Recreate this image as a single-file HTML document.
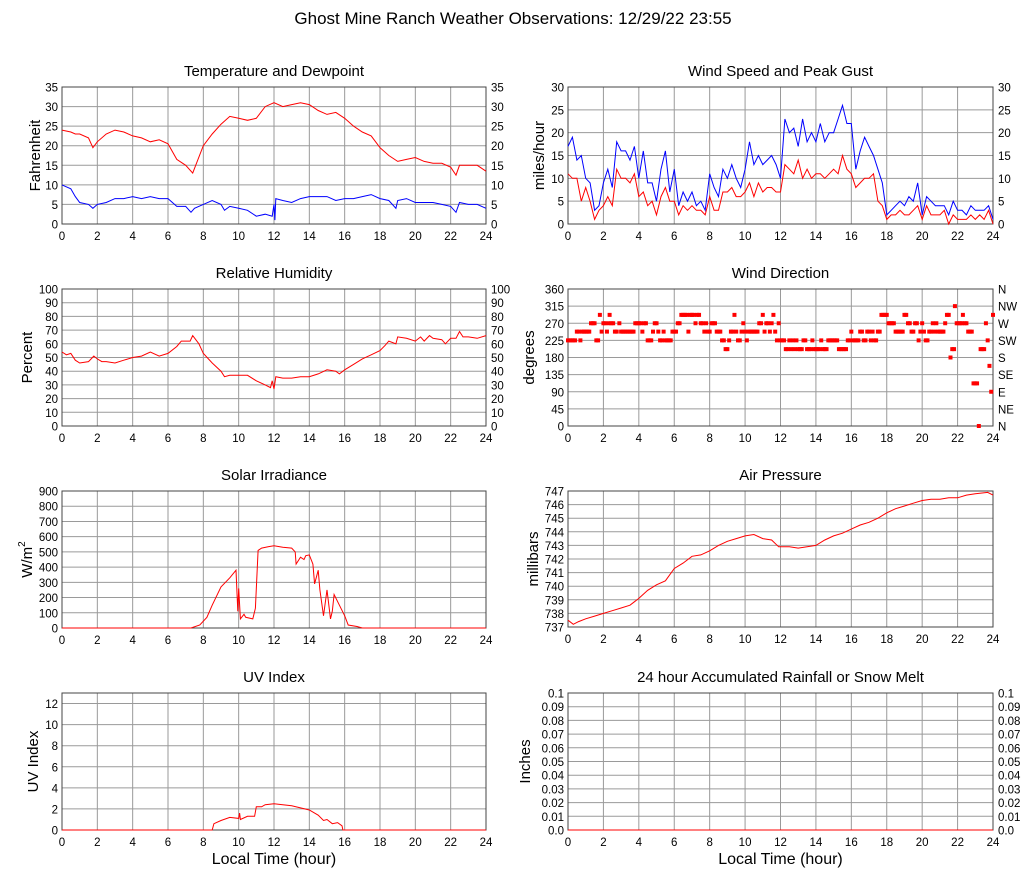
<!DOCTYPE html>
<html><head><meta charset="utf-8"><style>
body{margin:0;background:#fff}
svg{display:block;font-family:"Liberation Sans",sans-serif}
</style></head><body>
<svg id="chart" width="1027" height="878" viewBox="0 0 1027 878" xmlns="http://www.w3.org/2000/svg">
<rect width="1027" height="878" fill="#fff"/>
<text x="513" y="24" font-size="17" text-anchor="middle" fill="#000">Ghost Mine Ranch Weather Observations: 12/29/22 23:55</text>
</svg>
<script>
// ---- data ----
const tempHours=[0,0.5,0.75,1,1.5,1.75,2,2.5,3,3.5,4,4.5,5,5.5,6,6.5,7,7.4,8,8.5,9,9.5,10,10.5,11,11.5,12,12.5,13,13.5,14,14.5,15,15.5,16,16.5,17,17.5,18,18.5,19,19.5,20,20.5,21,21.5,22,22.3,22.5,23,23.5,24];
const tempValues=[24,23.5,23,23,22,19.5,21,23,24,23.5,22.5,22,21,21.5,20.5,16.5,15,13,20,23,25.5,27.5,27,26.5,27,30,31,30,30.5,31,30.5,29,28,28.5,27,25,23.5,22.5,19.5,17.5,16,16.5,17,16,15.5,15.5,14.5,12.5,15,15,15,13.5];
const dewHours=[0,0.5,0.75,1,1.5,1.75,2,2.5,3,3.5,4,4.5,5,5.5,6,6.5,7,7.3,7.5,8,8.5,9,9.2,9.5,10,10.5,11,11.5,11.9,12,12.05,12.1,12.5,13,13.5,14,14.5,15,15.5,16,16.5,17,17.5,18,18.5,18.9,19,19.5,20,20.5,21,21.5,22,22.3,22.5,23,23.5,24];
const dewValues=[10,9,7,5.5,5,4,5,5.5,6.5,6.5,7,6.5,7,6.5,6.5,4.5,4.5,3,4,5,6,5,3.5,4.5,4,3.5,2,2.5,2,5,1,6.5,6,5.5,6.5,7,7,7,6,6.5,6.5,7,7.5,6.5,6,4,6,6.5,5.5,5.5,5.5,5,4.5,3,5.5,5,5,4];
const windHours=[0,0.25,0.5,0.75,1,1.25,1.5,1.75,2,2.25,2.5,2.75,3,3.25,3.5,3.75,4,4.25,4.5,4.75,5,5.25,5.5,5.75,6,6.25,6.5,6.75,7,7.25,7.5,7.75,8,8.25,8.5,8.75,9,9.25,9.5,9.75,10,10.25,10.5,10.75,11,11.25,11.5,11.75,12,12.25,12.5,12.75,13,13.25,13.5,13.75,14,14.25,14.5,14.75,15,15.25,15.5,15.75,16,16.25,16.5,16.75,17,17.25,17.5,17.75,18,18.25,18.5,18.75,19,19.25,19.5,19.75,20,20.25,20.5,20.75,21,21.25,21.5,21.75,22,22.25,22.5,22.75,23,23.25,23.5,23.75,24];
const gustValues=[17,19,14,15,10,9,3,4,9,12,8,18,16,16,14,17,10,16,9,9,5,12,16,7,12,4,7,5,7,4,5,3,11,8,6,12,10,13,10,8,12,18,13,15,13,14,15,13,10,23,20,21,17,23,18,20,18,22,18,20,20,23,26,22,22,12,16,19,17,15,12,9,2,3,4,5,4,6,5,9,2,6,5,4,4,4,2,5,3,3,2,4,3,3,3,4,1];
const speedValues=[11,10,10,5,8,5,1,3,4,6,4,12,10,10,9,11,6,7,4,5,2,6,8,5,5,2,4,3,4,3,3,2,6,3,3,7,7,8,6,6,7,9,6,9,7,8,8,7,7,13,12,11,14,10,12,10,11,11,10,11,12,11,15,12,11,8,9,10,10,11,5,4,1,2,2,3,2,2,3,4,1,4,2,2,2,3,0,2,1,1,1,2,1,2,1,3,0];
const rhHours=[0,0.25,0.5,0.75,1,1.5,1.8,2,2.25,2.5,3,3.5,4,4.5,5,5.5,6,6.5,6.75,7,7.25,7.4,7.75,8,8.5,9,9.2,9.5,10,10.5,11,11.5,11.8,11.9,12,12.1,12.5,13,13.5,14,14.5,15,15.5,15.7,16,16.5,17,17.5,18,18.3,18.5,18.9,19,19.5,20,20.3,20.5,20.8,21,21.5,21.7,22,22.3,22.5,22.7,23,23.5,24];
const rhValues=[54,52,53,48,46,47,51,49,47,47,46,48,50,51,54,51,53,58,62,62,62,66,60,53,46,40,36,37,37,37,33,30,28,33,27,36,35,35,36,36,38,41,40,38,41,45,49,52,55,59,62,60,65,64,62,65,62,66,64,63,60,64,64,69,65,65,64,66];
const dirHours=[0,0.1,0.2,0.3,0.4,0.5,0.6,0.7,0.8,0.9,1.0,1.1,1.2,1.3,1.4,1.5,1.6,1.7,1.8,1.9,2.0,2.1,2.2,2.3,2.35,2.45,2.55,2.65,2.75,2.9,3.0,3.1,3.2,3.3,3.4,3.5,3.6,3.7,3.8,3.9,4.0,4.1,4.2,4.3,4.4,4.5,4.6,4.7,4.8,4.9,5.0,5.1,5.2,5.3,5.4,5.5,5.6,5.7,5.8,5.9,6.0,6.1,6.2,6.3,6.4,6.5,6.6,6.7,6.8,6.9,7.0,7.1,7.2,7.3,7.4,7.5,7.6,7.7,7.8,7.9,8.0,8.1,8.2,8.3,8.4,8.5,8.6,8.7,8.8,8.9,9.0,9.1,9.2,9.3,9.4,9.5,9.6,9.7,9.8,9.9,10.0,10.1,10.2,10.3,10.4,10.5,10.6,10.7,10.8,10.9,11.0,11.1,11.2,11.3,11.4,11.5,11.6,11.7,11.8,11.9,12.0,12.1,12.2,12.3,12.4,12.5,12.6,12.7,12.8,12.9,13.0,13.1,13.2,13.3,13.4,13.5,13.6,13.7,13.8,13.9,14.0,14.1,14.2,14.3,14.4,14.5,14.6,14.7,14.8,14.9,15.0,15.1,15.2,15.3,15.4,15.5,15.6,15.7,15.8,15.9,16.0,16.1,16.2,16.3,16.4,16.5,16.6,16.7,16.8,16.9,17.0,17.1,17.2,17.3,17.4,17.5,17.6,17.7,17.8,17.9,18.0,18.1,18.2,18.3,18.4,18.5,18.6,18.7,18.8,18.9,19.0,19.1,19.2,19.3,19.4,19.5,19.6,19.7,19.8,19.9,20.0,20.1,20.2,20.3,20.4,20.5,20.6,20.7,20.8,20.9,21.0,21.1,21.2,21.3,21.4,21.5,21.6,21.7,21.8,21.85,21.95,22.05,22.15,22.25,22.3,22.4,22.5,22.6,22.7,22.8,22.9,23.0,23.1,23.2,23.3,23.4,23.5,23.6,23.7,23.8,23.9,24.0];
const dirDegrees=[225,225,225,225,225,248,248,225,248,248,248,248,248,270,270,270,225,225,292,248,270,270,248,270,292,270,270,248,248,270,248,248,248,248,248,248,248,248,270,270,270,270,248,270,270,225,225,225,248,270,270,248,225,225,248,225,225,225,225,248,248,248,270,270,292,292,292,292,248,292,292,292,270,292,292,270,270,248,270,248,248,270,270,270,248,248,248,225,225,202,202,225,248,248,292,248,225,225,248,270,248,225,248,248,248,248,248,248,270,270,292,248,270,270,248,270,292,248,225,270,225,225,225,202,202,225,202,225,202,225,202,202,202,225,225,202,202,202,225,202,202,202,202,225,202,202,202,225,225,225,225,225,225,202,202,202,202,202,225,225,248,225,225,225,225,248,248,225,225,248,248,225,248,225,225,248,248,292,292,292,292,270,270,270,270,248,248,248,248,248,292,292,270,270,248,248,270,270,225,248,270,248,225,225,248,248,270,248,270,248,248,248,248,270,292,292,180,202,202,315,270,270,270,270,292,270,270,248,248,248,112,112,112,0,202,202,202,270,225,158,90,292];
const solarHours=[0,7.3,7.8,8.2,8.5,9,9.5,9.85,9.95,10.0,10.1,10.3,10.4,10.8,10.95,11.1,11.3,11.7,12,12.5,13,13.2,13.25,13.5,13.7,13.8,14,14.2,14.3,14.5,14.6,14.8,15,15.2,15.3,15.4,15.7,16,16.2,16.7,17,24];
const solarValues=[0,0,20,70,150,270,330,380,110,260,60,90,70,60,130,510,525,535,540,530,525,500,420,465,450,475,480,420,290,380,250,80,250,60,110,220,150,80,20,10,0,0];
const pressHours=[0,0.3,0.6,1,1.5,2,2.5,3,3.5,4,4.5,5,5.5,6,6.5,7,7.5,8,8.5,9,9.5,10,10.5,11,11.5,11.9,12.5,13,13.5,14,14.5,15,15.5,16,16.5,17,17.5,18,18.5,19,19.5,20,20.5,21,21.5,22,22.5,23,23.7,24];
const pressValues=[737.5,737.2,737.4,737.6,737.8,738,738.2,738.4,738.6,739.1,739.7,740.1,740.4,741.3,741.7,742.2,742.3,742.6,743,743.3,743.5,743.7,743.8,743.5,743.4,742.9,742.9,742.8,742.9,743,743.4,743.7,743.9,744.2,744.5,744.7,745,745.4,745.7,745.9,746.1,746.3,746.4,746.4,746.5,746.5,746.7,746.8,746.9,746.7];
const uvHours=[0,8.5,8.6,9,9.5,10,10.05,10.1,10.5,10.9,11.0,11.3,11.5,12,12.5,13,13.5,14,14.5,14.8,15,15.3,15.6,15.85,15.9,24];
const uvValues=[0,0,0.6,0.9,1.2,1.1,1.6,1.0,1.3,1.3,2.2,2.2,2.4,2.5,2.4,2.3,2.1,1.9,1.4,0.9,1.0,0.6,0.7,0.4,0,0];
const rainHours=[0,24];
const rainValues=[0,0];
const xTicks=[0,2,4,6,8,10,12,14,16,18,20,22,24];
const tempTicks=[0,5,10,15,20,25,30,35];
const windTicks=[0,5,10,15,20,25,30];
const rhTicks=[0,10,20,30,40,50,60,70,80,90,100];
const dirTicks=[0,45,90,135,180,225,270,315,360];
const dirLabels=["N","NE","E","SE","S","SW","W","NW","N"];
const solarTicks=[0,100,200,300,400,500,600,700,800,900];
const pressTicks=[737,738,739,740,741,742,743,744,745,746,747];
const uvTicks=[0,2,4,6,8,10,12];
const rainTicks=[0,0.01,0.02,0.03,0.04,0.05,0.06,0.07,0.08,0.09,0.1];
const rainLabels=["0.0","0.01","0.02","0.03","0.04","0.05","0.06","0.07","0.08","0.09","0.1"];

const svg=document.getElementById('chart');
const NS='http://www.w3.org/2000/svg';
function mk(tag,attrs,parent){const e=document.createElementNS(NS,tag);for(const k in attrs)e.setAttribute(k,attrs[k]);(parent||svg).appendChild(e);return e;}

function panel(p){
  const g=mk('g',{});
  
  
  const sx=h=>p.L+(h-0)/24*(p.R-p.L);
  const sy=v=>p.B-(v-p.min)/(p.max-p.min)*(p.B-p.T);
  p.sx=sx;p.sy=sy;
  const t=mk('text',{x:(p.L+p.R)/2,y:p.T-11,'font-size':15,'text-anchor':'middle',fill:'#000'},g);
  t.textContent=p.title;
  
  
  xTicks.forEach(h=>{
    if(h>0&&h<24){const l=mk('line',{x1:sx(h),x2:sx(h),y1:p.T,y2:p.B,stroke:'#9a9a9a','stroke-width':1},g);
    
    }
    const tx=mk('text',{x:sx(h),y:p.B+16,'font-size':11.5,'text-anchor':'middle',fill:'#000'},g);
    tx.textContent=h;
    
    
  });
  p.ticks.forEach((v,i)=>{
    const y=sy(v);
    if(v>p.min&&v<p.max){const l=mk('line',{x1:p.L,x2:p.R,y1:y,y2:y,stroke:'#9a9a9a','stroke-width':1},g);
    
    }
    const lab=p.labels?p.labels[i]:String(v);
    const ty=mk('text',{x:p.L-4,y:y+4.5,'font-size':11.5,'text-anchor':'end',fill:'#000'},g);
    ty.textContent=lab;
    
    
    if(p.right){
      const r=p.rightLabels?p.rightLabels[i]:lab;
      const tr=mk('text',{x:p.R+5,y:y+4.5,'font-size':11.5,'text-anchor':'start',fill:'#000'},g);
      tr.textContent=r;
      
      
    }
  });
  const b=mk('rect',{x:p.L,y:p.T,width:p.R-p.L,height:p.B-p.T,fill:'none',stroke:'#444','stroke-width':1},g);
  
  
  const yt=mk('text',{x:0,y:0,'font-size':15,'text-anchor':'middle',fill:'#000',transform:`translate(${p.ytx},${(p.T+p.B)/2}) rotate(-90)`},g);
  if(p.ylabelSup){yt.textContent=p.ylabel;const s=mk('tspan',{dy:-7,'font-size':10},yt);s.textContent=p.ylabelSup;}
  else yt.textContent=p.ylabel;
  
  
  if(p.xtitle){const xt=mk('text',{x:(p.L+p.R)/2,y:p.B+34,'font-size':16,'text-anchor':'middle',fill:'#000'},g);
    xt.textContent='Local Time (hour)';
    
    }
  p.g=g;return p;
}
function line(p,hours,vals,color,name){
  const d=hours.map((h,i)=>(i?'L':'M')+p.sx(h).toFixed(1)+' '+p.sy(vals[i]).toFixed(1)).join(' ');
  const e=mk('path',{d:d,fill:'none',stroke:color,'stroke-width':1},p.g);
  
  
}

const p1=panel({name:'temperature-panel',title:'Temperature and Dewpoint',L:62,R:486,T:87,B:224,min:0,max:35,ticks:tempTicks,right:true,ylabel:'Fahrenheit',ytx:40});
line(p1,tempHours,tempValues,'#f00','temperature-line');
line(p1,dewHours,dewValues,'#00f','dewpoint-line');
const p2=panel({name:'wind-speed-panel',title:'Wind Speed and Peak Gust',L:568,R:993,T:87,B:224,min:0,max:30,ticks:windTicks,right:true,ylabel:'miles/hour',ytx:544});
line(p2,windHours,gustValues,'#00f','gust-line');
line(p2,windHours,speedValues,'#f00','speed-line');
const p3=panel({name:'humidity-panel',title:'Relative Humidity',L:62,R:486,T:289,B:426,min:0,max:100,ticks:rhTicks,right:true,ylabel:'Percent',ytx:32});
line(p3,rhHours,rhValues,'#f00','humidity-line');
const p4=panel({name:'wind-direction-panel',title:'Wind Direction',L:568,R:993,T:289,B:426,min:0,max:360,ticks:dirTicks,right:true,rightLabels:dirLabels,ylabel:'degrees',ytx:534});
dirHours.forEach((h,i)=>{
  const r=mk('rect',{x:p4.sx(h)-2,y:p4.sy(dirDegrees[i])-2,width:4,height:4,fill:'#f00'},p4.g);
  
  
});
const p5=panel({name:'solar-panel',title:'Solar Irradiance',L:62,R:486,T:491,B:628,min:0,max:900,ticks:solarTicks,right:false,ylabel:'W/m',ylabelSup:'2',ytx:32});
line(p5,solarHours,solarValues,'#f00','solar-line');
const p6=panel({name:'pressure-panel',title:'Air Pressure',L:568,R:993,T:491,B:627,min:737,max:747,ticks:pressTicks,right:false,ylabel:'millibars',ytx:538});
line(p6,pressHours,pressValues,'#f00','pressure-line');
const p7=panel({name:'uv-panel',title:'UV Index',L:62,R:486,T:693,B:830,min:0,max:13,ticks:uvTicks,right:false,ylabel:'UV Index',ytx:38,xtitle:true});
line(p7,uvHours,uvValues,'#f00','uv-line');
const p8=panel({name:'rain-panel',title:'24 hour Accumulated Rainfall or Snow Melt',L:568,R:993,T:693,B:830,min:0,max:0.1,ticks:rainTicks,labels:rainLabels,right:true,ylabel:'Inches',ytx:530,xtitle:true});
line(p8,rainHours,rainValues,'#f00','rain-line');
</script>
</body></html>
